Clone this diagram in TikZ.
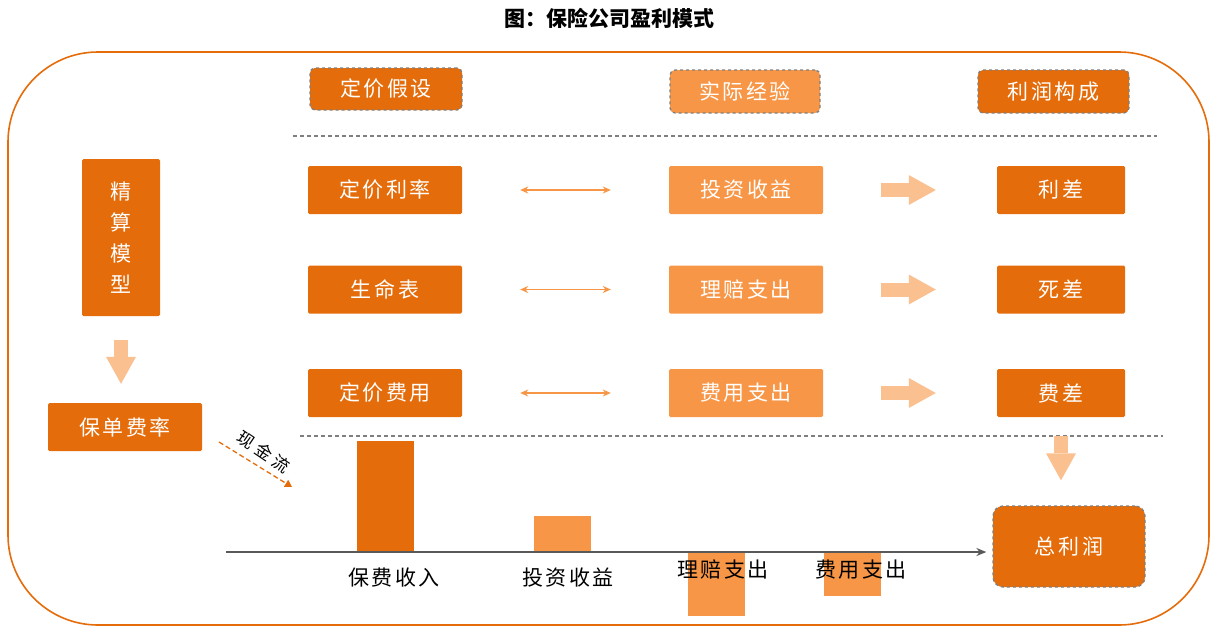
\documentclass[tikz,border=0pt]{standalone}
\usepackage{fontspec}
\setmainfont{Noto Sans CJK SC}
\newfontfamily\boxfont[LetterSpace=12]{Noto Sans CJK SC}
\newfontfamily\flowfont[LetterSpace=25]{Noto Sans CJK SC}
\usetikzlibrary{arrows.meta,calc}

\definecolor{darkorange}{HTML}{E46C0A}
\definecolor{liteorange}{HTML}{F79646}
\definecolor{peach}{HTML}{FAC090}
\definecolor{sepgray}{HTML}{7F7F7F}
\definecolor{axisgray}{HTML}{595959}

\tikzset{
  darkbox/.style={fill=darkorange, text=white, rounded corners=1.5pt, inner sep=0pt,
    minimum width=154pt, minimum height=48pt, font=\boxfont\fontsize{21}{25}\selectfont},
  litebox/.style={darkbox, fill=liteorange},
  headbox/.style={draw=sepgray, dashed, line width=1.3pt, rounded corners=5pt,
    minimum width=152pt, minimum height=42pt},
  blockarrow/.style={peach, line width=14pt, -{Triangle[line width=0pt, length=27pt, width=30pt]}},
  twoway/.style={liteorange, line width=1.5pt,
    {Stealth[length=8pt,width=7pt]}-{Stealth[length=8pt,width=7pt]},
    shorten <=58pt, shorten >=58pt},
  sepline/.style={sepgray, line width=1.1pt, dash pattern=on 4pt off 3pt},
  barlabel/.style={font=\boxfont\fontsize{21}{25}\selectfont},
}

\begin{document}
\begin{tikzpicture}[x=1pt, y=-1pt]
  \useasboundingbox (0,0) rectangle (1219,638);

  % Draw the title
  \node[font=\bfseries\fontsize{21}{25}\selectfont] (title) at (609,18) {图：保险公司盈利模式};

  % Draw the outer frame
  \draw[darkorange, line width=1.6pt, rounded corners=90pt] (8,52) rectangle (1209,625);

  % Draw the column heads
  \node[darkbox, headbox] (hdA) at (386,89) {定价假设};
  \node[litebox, headbox, minimum width=150pt, minimum height=43pt] (hdB) at (745,91.5) {实际经验};
  \node[darkbox, headbox, minimum width=151pt, minimum height=43pt] (hdC) at (1053.5,91.5) {利润构成};

  % Draw the dashed separators
  \draw[sepline] (293,136) -- (1157,136);
  \draw[sepline] (300,436) -- (1163,436);

  % Draw the three rows: pricing, experience and profit source
  \foreach \i/\y/\pa/\pb/\pc in {1/190/定价利率/投资收益/利差,
  2/289.5/生命表/理赔支出/死差, 3/393/定价费用/费用支出/费差} {
    \node[darkbox] (pr\i) at (385,\y) {\pa};
    \node[litebox] (ac\i) at (746,\y) {\pb};
    \node[darkbox, minimum width=128pt] (pf\i) at (1061,\y) {\pc};
    \draw[twoway] (pr\i) -- (ac\i);
    \draw[blockarrow, shorten <=58pt, shorten >=61pt] (ac\i) -- (pf\i);
  }

  % Draw the actuarial model and the premium rate
  \node[darkbox, minimum width=78pt, minimum height=157pt, align=center,
    font=\boxfont\fontsize{21}{31}\selectfont] (jsmx) at (121,237.5) {精\\算\\模\\型};
  \node[darkbox] (bdfl) at (125,427) {保单费率};
  \draw[blockarrow, shorten <=24pt, shorten >=19pt] (jsmx.south) -- (jsmx.south |- bdfl.north);

  % Draw the total profit box
  \node[darkbox, headbox, minimum width=152pt, minimum height=81pt, rounded corners=10pt]
    (zlr) at (1069,546.5) {总利润};
  \draw[blockarrow, shorten <=19pt, shorten >=25pt] (pf3.south) -- (pf3.south |- zlr.north);

  % Draw the cash flow bars
  \foreach \x/\y/\c in {357/441/darkorange, 534/516/liteorange, 688/616/liteorange, 824/596/liteorange}
    \fill[\c] (\x,552) rectangle ++(57,\y-552);

  % Draw the cash flow axis
  \coordinate (ax0) at (226,552);
  \draw[axisgray, line width=1.4pt, -{Stealth[length=10pt,width=8pt]}, shorten >=6pt]
    (ax0) -- (ax0 -| zlr.west);

  % Add the bar labels
  \foreach \n/\x/\y/\t in {lbA/394/578/保费收入, lbB/568/578/投资收益,
  lbC/723/570/理赔支出, lbD/861/570/费用支出}
    \node[barlabel] (\n) at (\x,\y) {\t};

  % Draw the cash flow hint
  \coordinate (cf0) at (219,442);
  \coordinate (cf1) at (292,487);
  \draw[darkorange, line width=1.3pt, dash pattern=on 5pt off 3pt,
    -{Triangle[length=7pt,width=8pt]}] (cf0) -- (cf1);
  \node[rotate=-34, font=\flowfont\fontsize{17}{20}\selectfont, inner sep=1pt]
    (xjl) at (264,452) {现金流};
\end{tikzpicture}
\end{document}
